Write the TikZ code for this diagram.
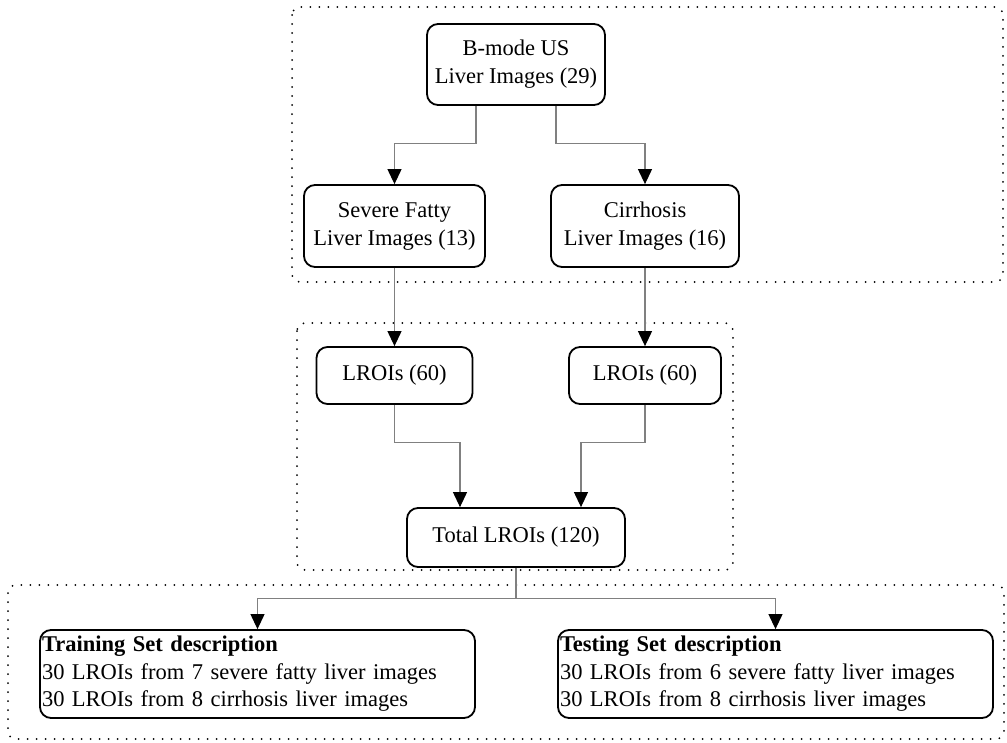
\documentclass[tikz,border=0pt]{standalone}
\usepackage{fontspec}
\setmainfont{Liberation Serif}
\usetikzlibrary{arrows.meta}
\begin{document}
\begin{tikzpicture}[x=1pt,y=-1pt,
  box/.style={draw=black,line width=1.8pt,rounded corners=11pt,inner sep=0pt,
    align=center,font=\fontsize{22.5}{28}\selectfont},
  descbox/.style={draw=black,line width=1.8pt,rounded corners=11pt,inner xsep=2pt,inner ysep=0pt,
    text width=431pt,minimum height=88pt,align=left,font=\fontsize{22.5}{27.5}\selectfont},
  conn/.style={draw=black!50,line width=1.1pt},
  arr/.style={conn,-{Triangle[width=14pt,length=15pt,color=black]}},
  frame/.style={draw=black,line width=2pt,line cap=round,dash pattern=on 0pt off 9pt,rounded corners=8pt}
]
\useasboundingbox (0,0) rectangle (1007,742);

% dotted grouping frames
\draw[frame] (292,7) rectangle (1003,282);
\draw[frame] (297,323) rectangle (733,570);
\draw[frame] (8,585) rectangle (1004,739);

% nodes
\node[box,minimum width=178pt,minimum height=81pt] (bmode) at (516,64.5) {B-mode US\\Liver Images (29)};
\node[box,minimum width=181pt,minimum height=82pt] (fatty) at (394.5,226) {Severe Fatty\\Liver Images (13)};
\node[box,minimum width=188pt,minimum height=82pt] (cirr) at (645,226) {Cirrhosis\\Liver Images (16)};
\node[box,minimum width=156pt,minimum height=57pt] (lroiA) at (394.5,375.5) {LROIs (60)};
\node[box,minimum width=152pt,minimum height=57pt] (lroiB) at (645,375.5) {LROIs (60)};
\node[box,minimum width=218pt,minimum height=59pt] (total) at (516,537.5) {Total LROIs (120)};
\node[descbox] (train) at (257.5,674) {\textbf{Training Set description}\\30 LROIs from 7 severe fatty liver images\\30 LROIs from 8 cirrhosis liver images};
\node[descbox] (test) at (775.5,674) {\textbf{Testing Set description}\\30 LROIs from 6 severe fatty liver images\\30 LROIs from 8 cirrhosis liver images};

% connectors
\draw[arr] ([xshift=-40pt]bmode.south) -- ++(0,38) -| (fatty.north);
\draw[arr] ([xshift=40pt]bmode.south) -- ++(0,38) -| (cirr.north);
\draw[arr] (fatty.south) -- (lroiA.north);
\draw[arr] (cirr.south) -- (lroiB.north);
\draw[arr] (lroiA.south) -- ++(0,38) -| ([xshift=-56pt]total.north);
\draw[arr] (lroiB.south) -- ++(0,38) -| ([xshift=65pt]total.north);
\draw[conn] (total.south) -- ++(0,31) coordinate (split);
\draw[arr] (split) -| (train.north);
\draw[arr] (split) -| (test.north);
\end{tikzpicture}
\end{document}
